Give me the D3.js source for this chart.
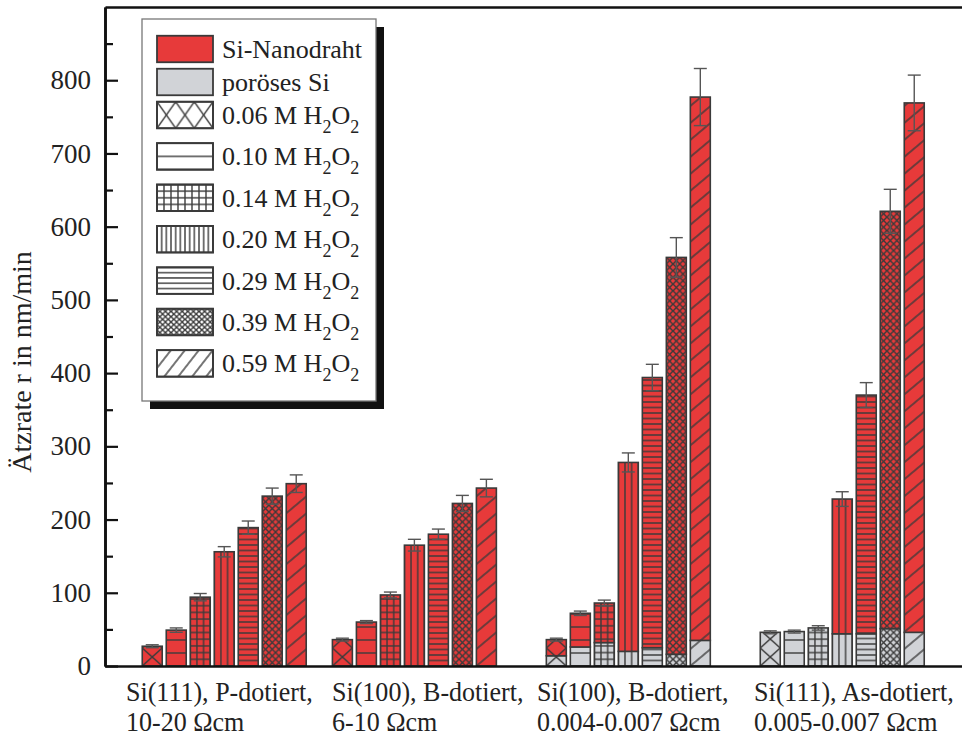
<!DOCTYPE html>
<html>
<head>
<meta charset="utf-8">
<script src="https://cdn.jsdelivr.net/npm/d3@7"></script>
<style>
  body { margin: 0; background: #fff; }
  svg { display: block; }
  text { font-family: "Liberation Serif", "Times New Roman", serif; fill: #222; }
</style>
</head>
<body>
<svg id="chart" width="962" height="737"></svg>
<script>
// Sample groups (wafer orientation, doping, resistivity)
const groupLine1 = ["Si(111), P-dotiert,", "Si(100), B-dotiert,", "Si(100), B-dotiert,", "Si(111), As-dotiert,"];
const groupLine2 = ["10-20 Ωcm", "6-10 Ωcm", "0.004-0.007 Ωcm", "0.005-0.007 Ωcm"];
const groupPos = [1, 2, 3.125, 4.25];

// H2O2 concentrations (one bar per concentration inside each group)
const concentrations = ["0.06", "0.10", "0.14", "0.20", "0.29", "0.39", "0.59"];

// Total etch rate (nm/min) = top of each stacked bar
const totalRate = [
  [27, 49, 94, 156, 189, 232, 249],
  [36, 60, 97, 165, 180, 222, 243],
  [36, 72, 86, 278, 394, 558, 777],
  [46, 47, 52, 228, 370, 621, 769]
];
// Porous Si part (bottom grey segment), nm/min
const porousRate = [
  [0, 0, 0, 0, 0, 0, 0],
  [0, 0, 0, 0, 0, 0, 0],
  [14, 26, 32, 20, 25, 16, 35],
  [46, 47, 52, 44, 44, 51, 46]
];
// Error of the total rate, nm/min
const rateError = [
  [2, 3, 5, 7, 9, 11, 12],
  [2, 2, 4, 8, 7, 11, 12],
  [2, 3, 4, 13, 18, 27, 39],
  [2, 2, 3, 10, 17, 30, 38]
];

const yMajorTicks = [0, 100, 200, 300, 400, 500, 600, 700, 800];
const yMinorTicks = [50, 150, 250, 350, 450, 550, 650, 750, 850];

const RED = "#e73a3a", GREY = "#d1d3d7", INK = "#3a3a3a";
const hatchTypes = ["x", "hSparse", "grid", "v", "hDense", "cross", "slash"];

const svg = d3.select("#chart");
const defs = svg.append("defs");

const plot = { left: 105, right: 963, top: 7, bottom: 666 };
const y = d3.scaleLinear().domain([0, 900]).range([plot.bottom, plot.top]);
const x = d3.scaleLinear().domain([0.373, 4.885]).range([plot.left, plot.right]);
const barStep = 0.1262, barWidth = 0.105;

// Hatch patterns: line-only tiles laid over the coloured fill
function hatch(id, type, ox, oy, boxW, legend) {
  const p = defs.append("pattern").attr("id", id).attr("patternUnits", "userSpaceOnUse");
  const ln = (x1, y1, x2, y2) => p.append("line")
    .attr("x1", x1).attr("y1", y1).attr("x2", x2).attr("y2", y2)
    .attr("stroke", INK).attr("stroke-width", 1.4).attr("stroke-linecap", "square");
  let w, h, transform = `translate(${ox},${oy})`;
  switch (type) {
    case "x":
      w = legend ? boxW / 3 : boxW; h = legend ? 26.5 : 18;
      ln(0, 0, w, h); ln(w, 0, 0, h); break;
    case "hSparse":
      w = 10; h = legend ? 13.25 : 13;
      ln(0, 0, w, 0); ln(0, h, w, h); break;
    case "grid":
      w = legend ? boxW / 8 : boxW / 3; h = legend ? 6.62 : 6.7;
      ln(0, 0, w, 0); ln(0, h, w, h); ln(0, 0, 0, h); ln(w, 0, w, h); break;
    case "v":
      w = legend ? boxW / 12 : boxW / 3; h = 10;
      ln(0, 0, 0, h); ln(w, 0, w, h); break;
    case "hDense":
      w = 10; h = legend ? 5.3 : 5.5;
      ln(0, 0, w, 0); ln(0, h, w, h); break;
    case "cross":
      w = legend ? boxW / 10 : boxW / 3; h = legend ? 5.3 : 6.7;
      ln(0, 0, w, h); ln(w, 0, 0, h); break;
    case "slash": {
      const s = legend ? 11 : 13;
      w = s; h = s;
      transform += ` rotate(${legend ? 38 : 50})`;
      ln(0, 0, 0, h); ln(w, 0, w, h); break;
    }
  }
  p.attr("width", w).attr("height", h).attr("patternTransform", transform);
  return `url(#${id})`;
}

// Bars
const barsG = svg.append("g");
const errG = svg.append("g");
const bw = x(barWidth) - x(0);

groupPos.forEach((gp, g) => {
  concentrations.forEach((c, i) => {
    const cx = x(gp + (i - 3) * barStep);
    const left = cx - bw / 2;
    const fillUrl = hatch(`h-${g}-${i}`, hatchTypes[i], left, y(0), bw, false);
    const segs = [];
    if (porousRate[g][i] > 0) segs.push({ from: 0, to: porousRate[g][i], color: GREY });
    if (totalRate[g][i] > porousRate[g][i]) segs.push({ from: porousRate[g][i], to: totalRate[g][i], color: RED });
    segs.forEach(s => {
      barsG.append("rect")
        .attr("x", left).attr("y", y(s.to)).attr("width", bw).attr("height", y(s.from) - y(s.to))
        .attr("fill", s.color);
      barsG.append("rect")
        .attr("x", left).attr("y", y(s.to)).attr("width", bw).attr("height", y(s.from) - y(s.to))
        .attr("fill", fillUrl).attr("stroke", INK).attr("stroke-width", 1.6);
    });
    // symmetric error bar on the total
    const t = totalRate[g][i], e = rateError[g][i];
    errG.append("line").attr("x1", cx).attr("x2", cx).attr("y1", y(t - e)).attr("y2", y(t + e))
      .attr("stroke", "#555").attr("stroke-width", 1.4);
    [t - e, t + e].forEach(v => errG.append("line")
      .attr("x1", cx - 6.5).attr("x2", cx + 6.5).attr("y1", y(v)).attr("y2", y(v))
      .attr("stroke", "#555").attr("stroke-width", 1.4));
  });
});

// Axes and frame
const axisStyle = sel => {
  sel.select(".domain").attr("stroke", "#111").attr("stroke-width", 2.6);
  sel.selectAll(".tick line").attr("stroke", "#111").attr("stroke-width", 2.2);
  sel.selectAll(".tick text").attr("font-size", 27).attr("fill", "#222")
     .attr("font-family", '"Liberation Serif", "Times New Roman", serif');
};
svg.append("g").attr("transform", `translate(${plot.left},0)`)
  .call(d3.axisLeft(y).tickValues(yMajorTicks).tickSize(-13).tickSizeOuter(0).tickPadding(14))
  .call(axisStyle);
svg.append("g").attr("transform", `translate(${plot.left},0)`)
  .call(d3.axisLeft(y).tickValues(yMinorTicks).tickSize(-8).tickSizeOuter(0).tickFormat(""))
  .call(axisStyle);
svg.append("g").attr("transform", `translate(0,${plot.bottom})`)
  .call(d3.axisBottom(x).tickValues([]).tickSizeOuter(0))
  .call(axisStyle);
svg.append("g").attr("transform", `translate(0,${plot.top})`)
  .call(d3.axisTop(x).tickValues([]).tickSizeOuter(0))
  .call(axisStyle);

// Y-axis title
svg.append("text")
  .attr("transform", `translate(31,362) rotate(-90)`)
  .attr("text-anchor", "middle").attr("font-size", 28)
  .text("Ätzrate r in nm/min");

// Group labels: two left-aligned, slightly condensed lines under each group
const groupLabelLeft = [126, 332, 537, 754];
groupPos.forEach((gp, g) => {
  [groupLine1[g], groupLine2[g]].forEach((line, j) => {
    svg.append("text")
      .attr("transform", `translate(${groupLabelLeft[g]},${701 + j * 30}) scale(0.93,1)`)
      .attr("font-size", 28).text(line);
  });
});

// Legend with drop shadow
const lg = svg.append("g");
const L = { x: 142, y: 19, w: 234, h: 382, boxX: 157, boxW: 56, boxH: 26.5, textX: 222 };
lg.append("rect").attr("x", L.x + 8).attr("y", L.y + 8).attr("width", L.w).attr("height", L.h).attr("fill", "#111");
lg.append("rect").attr("x", L.x).attr("y", L.y).attr("width", L.w).attr("height", L.h)
  .attr("fill", "#fff").attr("stroke", "#777").attr("stroke-width", 1.3);

const rowY = k => k < 3 ? 49 + k * 33 : 115 + (k - 2) * 41.4;
const legendItems = [
  { label: "Si-Nanodraht", fill: RED },
  { label: "poröses Si", fill: GREY },
  ...concentrations.map((c, i) => ({ conc: c, hatch: hatchTypes[i] }))
];
legendItems.forEach((it, k) => {
  const cy = rowY(k), top = cy - L.boxH / 2;
  const fill = it.hatch ? hatch(`lg-${k}`, it.hatch, L.boxX, top, L.boxW, true) : it.fill;
  lg.append("rect").attr("x", L.boxX).attr("y", top).attr("width", L.boxW).attr("height", L.boxH)
    .attr("fill", it.hatch ? "#fff" : fill).attr("stroke", INK).attr("stroke-width", 1.8);
  if (it.hatch) {
    lg.append("rect").attr("x", L.boxX).attr("y", top).attr("width", L.boxW).attr("height", L.boxH)
      .attr("fill", fill).attr("stroke", INK).attr("stroke-width", 1.8);
  }
  const t = lg.append("text").attr("x", L.textX).attr("y", cy + 9).attr("font-size", 26);
  if (it.label) {
    t.text(it.label);
  } else {
    t.append("tspan").text(`${it.conc} M H`);
    t.append("tspan").attr("font-size", 18).attr("dy", 9).text("2");
    t.append("tspan").attr("dy", -9).text("O");
    t.append("tspan").attr("font-size", 18).attr("dy", 9).text("2");
  }
});
</script>
</body>
</html>
